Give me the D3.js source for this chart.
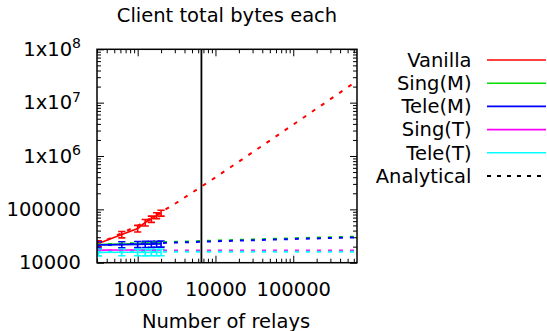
<!DOCTYPE html>
<html>
<head>
<meta charset="utf-8">
<script src="https://cdn.jsdelivr.net/npm/d3@7"></script>
<style>
  html, body { margin: 0; padding: 0; background: #fff; }
  svg { display: block; font-family: "DejaVu Sans", sans-serif; }
</style>
</head>
<body>
<svg id="chart" width="547" height="331"></svg>
<script>
// Measured runs: relay counts and per-client byte totals
const relays     = [312, 625, 1000, 1250, 1500, 1750, 2000];
const vanilla    = [22900, 33800, 43800, 56700, 65900, 76700, 85500];
const vanillaErr = [2800, 4600, 6200, 7800, 8800, 9800, 10800];
const singM      = [21800, 22300, 22800, 23200, 23500, 23800, 24000];
const teleM      = [21600, 21900, 22100, 22200, 22300, 22400, 22500];
const teleMErr   = [2800, 2800, 2900, 2900, 2900, 2900, 2900];
const singT      = [17200, 17300, 17300, 17400, 17300, 17300, 17400];
const teleT      = [15600, 15700, 15700, 15600, 15700, 15700, 15700];
const teleTErr   = [2200, 2200, 2200, 2200, 2200, 2200, 2200];

// Analytical model curves
const anRelays   = [300, 1000, 3000, 10000, 30000, 100000, 300000, 660000];
const anVanilla  = [22100, 49200, 126600, 397500, 1172000, 3880000, 11620000, 25550000];
const anSingM    = [22000, 23400, 24600, 26000, 27300, 28700, 30000, 30900];
const anTeleM    = [21200, 22600, 23800, 25200, 26400, 27800, 29000, 29900];
const anSingT    = [16900, 16900, 16900, 16900, 16900, 16900, 16900, 16900];
const anTeleT    = [16100, 16100, 16100, 16100, 16100, 16100, 16100, 16100];

// Current network size marker
const currentRelays = 6600;

// Axis ticks and labels
const xMajor = [1000, 10000, 100000];
const xTickLabels = ["1000", "10000", "100000"];
const yMajor = [1e4, 1e5, 1e6, 1e7, 1e8];
const yTickBase = ["10000", "100000", "1x10", "1x10", "1x10"];
const yTickExp  = ["", "", "6", "7", "8"];

const legendLabels = ["Vanilla", "Sing(M)", "Tele(M)", "Sing(T)", "Tele(T)", "Analytical"];
const colors = {vanilla: "#ff0000", singM: "#00e000", teleM: "#0000ff", singT: "#ff00ff", teleT: "#00ffff", analytical: "#000000"};
const legendColors = [colors.vanilla, colors.singM, colors.teleM, colors.singT, colors.teleT, colors.analytical];

const FONT = 19.5;
const plot = {left: 97, right: 357, top: 49.3, bottom: 262.7};

const svg = d3.select("#chart");

const x = d3.scaleLog().domain([300, 660000]).range([plot.left, plot.right]);
const y = d3.scaleLog().domain([1e4, 1e8]).range([plot.bottom, plot.top]);

// Title
svg.append("text")
  .attr("x", (plot.left + plot.right) / 2)
  .attr("y", 21.5)
  .attr("text-anchor", "middle")
  .attr("font-size", FONT)
  .text("Client total bytes each");

// X axis label
svg.append("text")
  .attr("x", (plot.left + plot.right) / 2 - 1)
  .attr("y", 327.5)
  .attr("text-anchor", "middle")
  .attr("font-size", FONT)
  .text("Number of relays");

// Minor ticks come from the log scales' own tick generators
const xMinor = x.ticks().filter(v => !xMajor.includes(v));
const yMinor = y.ticks().filter(v => !yMajor.includes(v));

function styleAxis(g) {
  g.select(".domain").remove();
  g.selectAll(".tick line").attr("stroke", "#000").attr("stroke-width", 1);
  g.selectAll(".tick text").attr("font-size", FONT).attr("font-family", "DejaVu Sans").attr("fill", "#000");
}

// Bottom axis with labels
svg.append("g")
  .attr("transform", `translate(0,${plot.bottom})`)
  .call(d3.axisBottom(x).tickValues(xMajor).tickSize(-7).tickPadding(19)
    .tickFormat((d, i) => xTickLabels[i]))
  .call(styleAxis);
svg.append("g")
  .attr("transform", `translate(0,${plot.bottom})`)
  .call(d3.axisBottom(x).tickValues(xMinor).tickSize(-4).tickFormat(""))
  .call(styleAxis);
// Top mirror ticks
svg.append("g")
  .attr("transform", `translate(0,${plot.top})`)
  .call(d3.axisTop(x).tickValues(xMajor).tickSize(-7).tickFormat(""))
  .call(styleAxis);
svg.append("g")
  .attr("transform", `translate(0,${plot.top})`)
  .call(d3.axisTop(x).tickValues(xMinor).tickSize(-4).tickFormat(""))
  .call(styleAxis);

// Left axis with labels
const yAxisG = svg.append("g")
  .attr("transform", `translate(${plot.left},0)`)
  .call(d3.axisLeft(y).tickValues(yMajor).tickSize(-7).tickPadding(16).tickFormat(""))
  .call(styleAxis);
yAxisG.selectAll(".tick text").each(function(d, i) {
  const t = d3.select(this);
  t.append("tspan").text(yTickBase[i]);
  if (yTickExp[i]) {
    t.append("tspan").attr("font-size", FONT * 0.72).attr("dy", "-0.55em").text(yTickExp[i]);
  }
});
svg.append("g")
  .attr("transform", `translate(${plot.left},0)`)
  .call(d3.axisLeft(y).tickValues(yMinor).tickSize(-4).tickFormat(""))
  .call(styleAxis);
// Right mirror ticks
svg.append("g")
  .attr("transform", `translate(${plot.right},0)`)
  .call(d3.axisRight(y).tickValues(yMajor).tickSize(-7).tickFormat(""))
  .call(styleAxis);
svg.append("g")
  .attr("transform", `translate(${plot.right},0)`)
  .call(d3.axisRight(y).tickValues(yMinor).tickSize(-4).tickFormat(""))
  .call(styleAxis);

// Clip region for plotted curves
svg.append("defs").append("clipPath").attr("id", "plotClip")
  .append("rect")
  .attr("x", plot.left).attr("y", plot.top)
  .attr("width", plot.right - plot.left).attr("height", plot.bottom - plot.top);

const layer = svg.append("g").attr("clip-path", "url(#plotClip)");

const line = d3.line().x(d => x(d[0])).y(d => y(d[1]));

function drawMeasured(values, errs, color) {
  const pts = relays.map((r, i) => [r, values[i]]);
  layer.append("path").attr("d", line(pts))
    .attr("fill", "none").attr("stroke", color).attr("stroke-width", 1.7);
  if (errs) {
    const cap = 3.6;
    relays.forEach((r, i) => {
      const cx = x(r), lo = y(values[i] - errs[i]), hi = y(values[i] + errs[i]);
      const g = layer.append("g").attr("stroke", color).attr("stroke-width", 1.6);
      g.append("line").attr("x1", cx).attr("x2", cx).attr("y1", lo).attr("y2", hi);
      g.append("line").attr("x1", cx - cap).attr("x2", cx + cap).attr("y1", lo).attr("y2", lo);
      g.append("line").attr("x1", cx - cap).attr("x2", cx + cap).attr("y1", hi).attr("y2", hi);
    });
  }
}

function drawAnalytical(values, color) {
  const pts = anRelays.map((r, i) => [r, values[i]]);
  layer.append("path").attr("d", line(pts))
    .attr("fill", "none").attr("stroke", color).attr("stroke-width", 2)
    .attr("stroke-dasharray", "4,7");
}

drawMeasured(vanilla, vanillaErr, colors.vanilla);
drawMeasured(singM, null, colors.singM);
drawMeasured(teleM, teleMErr, colors.teleM);
drawMeasured(singT, null, colors.singT);
drawMeasured(teleT, teleTErr, colors.teleT);

drawAnalytical(anVanilla, colors.vanilla);
drawAnalytical(anSingM, colors.singM);
drawAnalytical(anTeleM, colors.teleM);
drawAnalytical(anSingT, colors.singT);
drawAnalytical(anTeleT, colors.teleT);

// Vertical marker at current network size
svg.append("line")
  .attr("x1", x(currentRelays)).attr("x2", x(currentRelays))
  .attr("y1", plot.top).attr("y2", plot.bottom)
  .attr("stroke", "#000").attr("stroke-width", 1.8);

// Plot frame
svg.append("rect")
  .attr("x", plot.left).attr("y", plot.top)
  .attr("width", plot.right - plot.left).attr("height", plot.bottom - plot.top)
  .attr("fill", "none").attr("stroke", "#000").attr("stroke-width", 1.5);

// Legend
const legend = svg.append("g");
const legY0 = 60, legStep = 23.2;
legendLabels.forEach((lab, i) => {
  const ly = legY0 + i * legStep;
  legend.append("text")
    .attr("x", 471.5).attr("y", ly).attr("dy", "0.35em")
    .attr("text-anchor", "end").attr("font-size", FONT)
    .text(lab);
  const l = legend.append("line")
    .attr("x1", 487).attr("x2", 546).attr("y1", ly).attr("y2", ly)
    .attr("stroke", legendColors[i]).attr("stroke-width", 1.6);
  if (lab === "Analytical") l.attr("stroke-dasharray", "4,6").attr("stroke-width", 1.8);
});
</script>
</body>
</html>
